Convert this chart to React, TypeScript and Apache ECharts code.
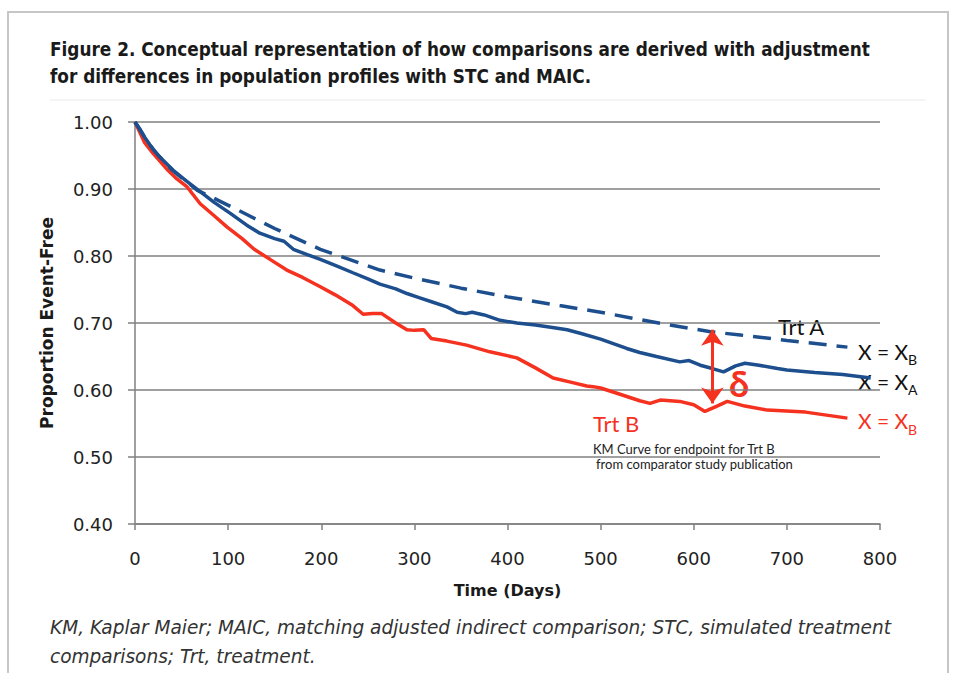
import React, { useEffect, useRef } from "react";
import * as echarts from "echarts";

// Time (days) tick settings
const xMin = 0;
const xMax = 800;
const xStep = 100;
const yMin = 0.4;
const yMax = 1.0;
const yStep = 0.1;

// Trt A, observed population (X = X_A)
const trtA_XA: [number, number][] = [
  [0, 1.0], [5, 0.99], [10, 0.978], [16, 0.966], [25, 0.95], [41, 0.928], [55, 0.912],
  [70, 0.896], [85, 0.88], [102, 0.864], [120, 0.846], [134, 0.834], [150, 0.826],
  [160, 0.822], [170, 0.81], [185, 0.802], [199, 0.795], [215, 0.786], [234, 0.775],
  [250, 0.766], [263, 0.758], [280, 0.751], [292, 0.744], [305, 0.738], [320, 0.731],
  [335, 0.724], [346, 0.716], [355, 0.714], [362, 0.716], [375, 0.712], [392, 0.704],
  [410, 0.7], [430, 0.697], [450, 0.693], [464, 0.69], [480, 0.684], [500, 0.676],
  [528, 0.662], [542, 0.656], [560, 0.65], [585, 0.642], [595, 0.644], [607, 0.637],
  [620, 0.632], [632, 0.627], [645, 0.636], [655, 0.64], [670, 0.637], [690, 0.632],
  [700, 0.63], [730, 0.626], [760, 0.623], [790, 0.618]
];

// Trt A, adjusted to comparator population (X = X_B)
const trtA_XB: [number, number][] = [
  [0, 1.0], [10, 0.978], [20, 0.958], [40, 0.928], [67, 0.898], [91, 0.882], [120, 0.862],
  [150, 0.841], [199, 0.81], [263, 0.779], [300, 0.767], [350, 0.752], [400, 0.739],
  [456, 0.726], [500, 0.716], [535, 0.707], [570, 0.698], [618, 0.687], [650, 0.682],
  [700, 0.674], [765, 0.664]
];

// Trt B, KM curve from comparator study publication (X = X_B)
const trtB_XB: [number, number][] = [
  [0, 1.0], [5, 0.985], [10, 0.97], [19, 0.954], [34, 0.93], [45, 0.915], [56, 0.903],
  [70, 0.878], [85, 0.86], [99, 0.843], [115, 0.826], [128, 0.81], [145, 0.795],
  [163, 0.779], [180, 0.768], [199, 0.754], [215, 0.742], [234, 0.726], [245, 0.713],
  [255, 0.714], [265, 0.714], [280, 0.7], [292, 0.69], [300, 0.689], [310, 0.69],
  [318, 0.677], [335, 0.673], [356, 0.667], [381, 0.657], [410, 0.648], [430, 0.633],
  [449, 0.618], [470, 0.611], [485, 0.606], [492, 0.605], [500, 0.603], [520, 0.594],
  [542, 0.584], [553, 0.58], [564, 0.585], [585, 0.583], [600, 0.578], [612, 0.568],
  [625, 0.576], [636, 0.583], [655, 0.576], [679, 0.57], [720, 0.567], [765, 0.558]
];

// Difference arrow (delta) between adjusted Trt A and Trt B
const deltaDay = 620;
const deltaTop = 0.69;
const deltaBottom = 0.58;

const BLUE = "#1d4f8e";
const RED = "#f5311f";
const CHART_FONT = "Lato, 'Open Sans', sans-serif";
const AXIS_FONT = "'DejaVu Sans', sans-serif";
const TITLE_FONT = "'DejaVu Sans Condensed', 'DejaVu Sans', sans-serif";

export default function App() {
  const ref = useRef<HTMLDivElement>(null);

  useEffect(() => {
    if (!ref.current) return;
    const chart = echarts.init(ref.current, null, { renderer: "svg" });

    const txt = (
      x: number,
      y: number,
      text: string,
      font: string,
      fill: string,
      scaleX = 1
    ) => ({
      type: "text",
      silent: true,
      x,
      y,
      scaleX,
      style: { x: 0, y: 0, text, font, fill, align: "left", verticalAlign: "middle" }
    });

    const option: any = {
      animation: false,
      backgroundColor: "#ffffff",
      grid: { left: 135, right: 76, top: 122, bottom: 149, containLabel: false },
      xAxis: {
        type: "value",
        min: xMin,
        max: xMax,
        interval: xStep,
        name: "Time (Days)",
        nameLocation: "middle",
        nameGap: 58,
        nameTextStyle: { fontFamily: AXIS_FONT, fontSize: 16, fontWeight: "bold", color: "#1a1a1a" },
        axisLine: { show: true, lineStyle: { color: "#808080", width: 1.5 } },
        axisTick: { show: true, length: 6, lineStyle: { color: "#808080", width: 1.5 } },
        axisLabel: { fontFamily: AXIS_FONT, fontSize: 18, color: "#222", margin: 25 },
        splitLine: { show: false }
      },
      yAxis: {
        type: "value",
        min: yMin,
        max: yMax,
        interval: yStep,
        name: "Proportion Event-Free",
        nameLocation: "middle",
        nameRotate: 90,
        nameGap: 80,
        nameTextStyle: { fontFamily: AXIS_FONT, fontSize: 17, fontWeight: "bold", color: "#1a1a1a" },
        axisLine: { show: true, lineStyle: { color: "#808080", width: 1.5 } },
        axisTick: { show: true, length: 7, lineStyle: { color: "#808080", width: 1.5 } },
        axisLabel: {
          fontFamily: AXIS_FONT,
          fontSize: 18,
          color: "#222",
          margin: 22,
          formatter: (v: number) => v.toFixed(2)
        },
        splitLine: { show: true, lineStyle: { color: "#808080", width: 1.5 } }
      },
      series: [
        {
          name: "Trt B (X = XB)",
          type: "line",
          data: trtB_XB,
          showSymbol: false,
          lineStyle: { color: RED, width: 3.5 },
          itemStyle: { color: RED },
          z: 3,
          markLine: {
            silent: true,
            symbol: ["arrow", "arrow"],
            symbolSize: [17, 16],
            label: { show: false },
            lineStyle: { color: RED, width: 3, type: "solid" },
            data: [[{ coord: [deltaDay, deltaTop] }, { coord: [deltaDay, deltaBottom] }]]
          }
        },
        {
          name: "Trt A (X = XA)",
          type: "line",
          data: trtA_XA,
          showSymbol: false,
          lineStyle: { color: BLUE, width: 3.5 },
          itemStyle: { color: BLUE },
          z: 4
        },
        {
          name: "Trt A (X = XB)",
          type: "line",
          data: trtA_XB,
          showSymbol: false,
          lineStyle: { color: BLUE, width: 3.5, type: [18, 10] },
          itemStyle: { color: BLUE },
          z: 4
        }
      ],
      graphic: [
        {
          type: "rect",
          silent: true,
          z: -10,
          shape: { x: 8, y: 12, width: 940, height: 720 },
          style: { fill: "none", stroke: "#c6c6c6", lineWidth: 2 }
        },
        {
          type: "line",
          silent: true,
          shape: { x1: 50, y1: 100, x2: 925, y2: 100 },
          style: { stroke: "#f0f0f0", lineWidth: 1.5 }
        },
        txt(50, 49, "Figure 2. Conceptual representation of how comparisons are derived with adjustment", `bold 20px ${TITLE_FONT}`, "#1a1a1a", 0.94),
        txt(50, 76, "for differences in population profiles with STC and MAIC.", `bold 20px ${TITLE_FONT}`, "#1a1a1a", 0.94),
        txt(50, 627, "KM, Kaplar Maier; MAIC, matching adjusted indirect comparison; STC, simulated treatment", `italic 20px ${TITLE_FONT}`, "#333", 1.03),
        txt(50, 656, "comparisons; Trt, treatment.", `italic 20px ${TITLE_FONT}`, "#333", 1.03),
        txt(778, 326, "Trt A", `22px ${CHART_FONT}`, "#111"),
        txt(858, 351, "X = X", `21px ${CHART_FONT}`, "#111"),
        txt(908, 359, "B", `14px ${CHART_FONT}`, "#111"),
        txt(858, 381, "X = X", `21px ${CHART_FONT}`, "#111"),
        txt(908, 389, "A", `14px ${CHART_FONT}`, "#111"),
        txt(858, 420, "X = X", `21px ${CHART_FONT}`, RED),
        txt(908, 429, "B", `14px ${CHART_FONT}`, RED),
        txt(593, 423, "Trt B", `22px ${CHART_FONT}`, RED),
        txt(593, 449, "KM Curve for endpoint for Trt B", `13px ${CHART_FONT}`, "#222"),
        txt(596, 464, "from comparator study publication", `13px ${CHART_FONT}`, "#222"),
        txt(729, 383, "δ", `bold 36px ${CHART_FONT}`, RED)
      ]
    };

    chart.setOption(option);
    return () => chart.dispose();
  }, []);

  return (
    <div
      ref={ref}
      style={{ position: "absolute", left: 0, top: 0, width: 956, height: 673, background: "#fff" }}
    />
  );
}
